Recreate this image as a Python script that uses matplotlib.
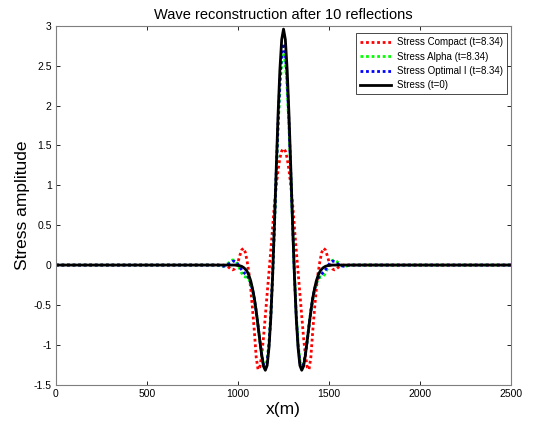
import numpy as np
import matplotlib
matplotlib.use("Agg")
import matplotlib.pyplot as plt

plt.rcParams['font.family'] = ['Liberation Sans', 'DejaVu Sans']

# Sample positions (offset from the pulse centre, metres) and profile values
center_m = 1250
domain = [0, 2500]
offset_m = list(range(0, 370, 10))

stress_t0 = [2.96, 2.83, 2.45, 1.89, 1.21, 0.51, -0.14, -0.67, -1.04, -1.26,
             -1.32, -1.27, -1.13, -0.95, -0.76, -0.58, -0.42, -0.30, -0.20, -0.13,
             -0.08, -0.05, -0.03, -0.016, -0.009, -0.005, -0.002, 0, 0, 0,
             0, 0, 0, 0, 0, 0, 0]
stress_compact = [1.46, 1.43, 1.34, 1.19, 1.00, 0.76, 0.47, 0.18, -0.09, -0.36,
                  -0.64, -0.91, -1.13, -1.28, -1.31, -1.16, -0.84, -0.56, -0.30, -0.10,
                  0.05, 0.16, 0.21, 0.19, 0.12, 0.04, -0.02, -0.05, -0.06, -0.05,
                  -0.03, -0.015, -0.005, 0, 0, 0, 0]
stress_alpha = [2.66, 2.54, 2.21, 1.71, 1.11, 0.49, -0.12, -0.62, -0.98, -1.20,
                -1.28, -1.24, -1.12, -0.95, -0.76, -0.58, -0.43, -0.31, -0.23, -0.18,
                -0.15, -0.15, -0.14, -0.10, -0.05, 0.0, 0.04, 0.06, 0.065, 0.05,
                0.03, 0.01, -0.005, -0.015, -0.015, -0.01, 0]
stress_optimal = [2.78, 2.65, 2.31, 1.78, 1.15, 0.50, -0.13, -0.64, -1.00, -1.22,
                  -1.30, -1.25, -1.12, -0.95, -0.76, -0.58, -0.43, -0.31, -0.23, -0.17,
                  -0.13, -0.11, -0.09, -0.06, -0.02, 0.01, 0.04, 0.05, 0.045, 0.03,
                  0.015, 0.0, -0.01, -0.015, -0.01, -0.005, 0]

labels = ["Stress Compact (t=8.34)", "Stress Alpha (t=8.34)",
          "Stress Optimal I (t=8.34)", "Stress (t=0)"]
xticks = [0, 500, 1000, 1500, 2000, 2500]
yticks = [-1.5, -1, -0.5, 0, 0.5, 1, 1.5, 2, 2.5, 3]
ytick_labels = ["-1.5", "-1", "-0.5", "0", "0.5", "1", "1.5", "2", "2.5", "3"]


def full_profile(half):
    off = np.array(offset_m, dtype=float)
    h = np.array(half, dtype=float)
    x = np.concatenate([[domain[0]], center_m - off[:0:-1], center_m + off, [domain[1]]])
    y = np.concatenate([[0.0], h[:0:-1], h, [0.0]])
    return x, y


fig = plt.figure(figsize=(5.38, 4.25), dpi=100)
ax = fig.add_axes([0.104, 0.095, 0.846, 0.844])

styles = [("#ff0000", stress_compact, (0, (1, 1))),
          ("#00ff00", stress_alpha, (0, (1, 1))),
          ("#0000ff", stress_optimal, (0, (1, 1))),
          ("#000000", stress_t0, "-")]
for (color, half, ls), lab in zip(styles, labels):
    x, y = full_profile(half)
    ax.plot(x, y, color=color, linestyle=ls, linewidth=2, label=lab)

ax.set_xlim(0, 2500)
ax.set_ylim(-1.5, 3)
ax.set_xticks(xticks)
ax.set_xticklabels([str(t) for t in xticks])
ax.set_yticks(yticks)
ax.set_yticklabels(ytick_labels)
ax.tick_params(direction='in', top=True, right=True, length=3, width=0.6,
               labelsize=7.5, colors='#000000', pad=3)
for s in ax.spines.values():
    s.set_color('#7f7f7f')
    s.set_linewidth(0.8)

ax.set_title("Wave reconstruction after 10 reflections", fontsize=10.5, pad=5)
ax.set_xlabel("x(m)", fontsize=12.5, labelpad=2)
ax.set_ylabel("Stress amplitude", fontsize=12.5, labelpad=3)

leg = ax.legend(loc='upper right', bbox_to_anchor=(0.991, 0.979), borderaxespad=0,
                fontsize=7, handlelength=3.2, handletextpad=0.6,
                labelspacing=0.45, fancybox=False,
                framealpha=1, edgecolor='#000000', borderpad=0.4)
leg.get_frame().set_linewidth(0.5)

fig.savefig("out.png", dpi=100)
